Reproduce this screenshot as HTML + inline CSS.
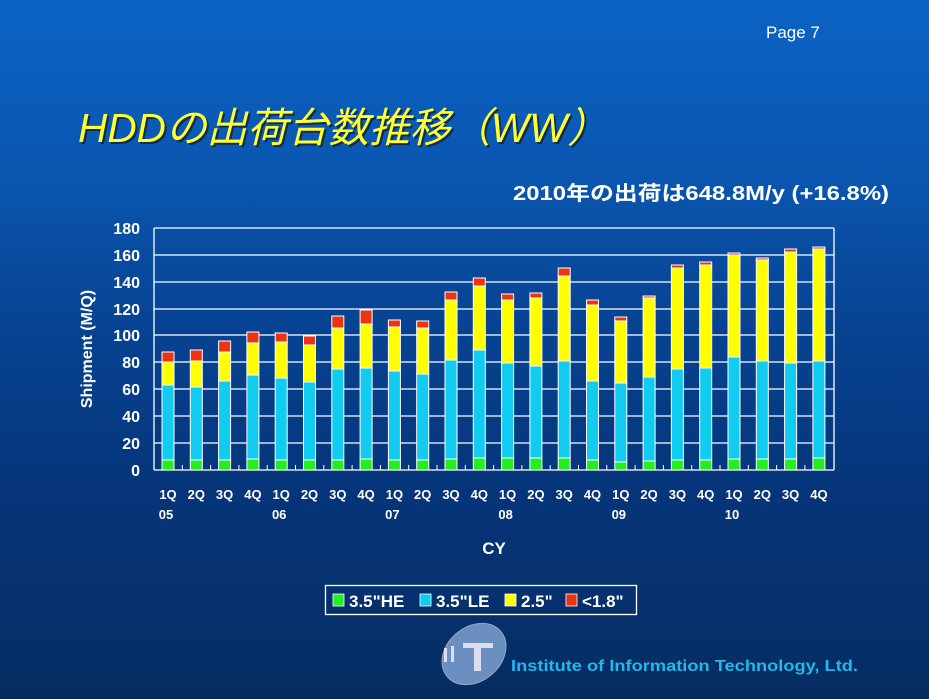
<!DOCTYPE html>
<html><head><meta charset="utf-8"><style>
body{margin:0;width:929px;height:699px;overflow:hidden;background:linear-gradient(180deg,#0b63c4 0%,#0a56b0 25%,#074494 45%,#06357a 70%,#062d62 100%);font-family:"Liberation Sans","Noto Sans CJK JP",sans-serif}
svg{position:absolute;left:0;top:0}
</style></head><body>
<svg width="929" height="699" xmlns="http://www.w3.org/2000/svg" font-family="Liberation Sans, Noto Sans CJK JP, sans-serif">
<text x="766" y="38" fill="#fff" font-size="17">Page 7</text>
<text x="80" y="144" fill="#111" font-size="41" font-style="italic" textLength="530" lengthAdjust="spacingAndGlyphs" opacity="0.6">HDDの出荷台数推移（WW）</text>
<text x="78" y="142" fill="#ffff33" font-size="41" font-style="italic" textLength="530" lengthAdjust="spacingAndGlyphs">HDDの出荷台数推移（WW）</text>
<text x="513" y="200" fill="#fff" font-size="20" font-weight="bold" textLength="376" lengthAdjust="spacingAndGlyphs">2010年の出荷は648.8M/y (+16.8%)</text>
<g stroke="#fff" stroke-width="1.3">
<line x1="154" y1="228" x2="834" y2="228"/><line x1="154" y1="255" x2="834" y2="255"/><line x1="154" y1="282" x2="834" y2="282"/><line x1="154" y1="309" x2="834" y2="309"/><line x1="154" y1="335" x2="834" y2="335"/><line x1="154" y1="362" x2="834" y2="362"/><line x1="154" y1="389" x2="834" y2="389"/><line x1="154" y1="416" x2="834" y2="416"/><line x1="154" y1="443" x2="834" y2="443"/><line x1="154" y1="470" x2="834" y2="470"/>
<line x1="154" y1="228" x2="154" y2="470"/><line x1="834" y1="228" x2="834" y2="470"/>
</g>
<g fill="#fff" font-size="16" font-weight="bold" text-anchor="end">
<text x="140" y="234">180</text><text x="140" y="261">160</text><text x="140" y="288">140</text><text x="140" y="315">120</text><text x="140" y="341">100</text><text x="140" y="368">80</text><text x="140" y="395">60</text><text x="140" y="422">40</text><text x="140" y="449">20</text><text x="140" y="476">0</text>
</g>
<text transform="translate(92,349) rotate(-90)" fill="#fff" font-size="16" font-weight="bold" text-anchor="middle">Shipment (M/Q)</text>
<g id="bars" stroke="#fff" stroke-width="1"></g>
<g id="xl" fill="#fff" font-size="13" font-weight="bold" text-anchor="middle"></g>
<text x="494" y="554" fill="#fff" font-size="17" font-weight="bold" text-anchor="middle">CY</text>
<rect x="325.5" y="585.5" width="311" height="29" fill="none" stroke="#fff" stroke-width="1.3"/>
<g font-size="17" font-weight="bold" fill="#fff" stroke="#fff" stroke-width="0.8">
<rect x="333" y="594" width="11" height="12" fill="#22ee22"/><text x="349" y="607" stroke="none">3.5"HE</text>
<rect x="420" y="594" width="11" height="12" fill="#11ccf0"/><text x="436" y="607" stroke="none">3.5"LE</text>
<rect x="505" y="594" width="11" height="12" fill="#ffff00"/><text x="521" y="607" stroke="none">2.5"</text>
<rect x="566" y="594" width="11" height="12" fill="#ee3311"/><text x="582" y="607" stroke="none">&lt;1.8"</text>
</g>
<ellipse cx="474" cy="654" rx="35" ry="27" transform="rotate(-40 474 654)" fill="#6a8fc0" stroke="#9ab" stroke-width="1"/>
<rect x="463" y="643" width="30" height="5" fill="#dde"/><rect x="474" y="643" width="7" height="28" fill="#dde"/>
<rect x="444" y="648" width="3" height="14" fill="#dde"/><rect x="451" y="646" width="3" height="16" fill="#dde"/>
<text x="511" y="671" fill="#22b8ea" font-size="16" font-weight="bold" textLength="347" lengthAdjust="spacingAndGlyphs">Institute of Information Technology, Ltd.</text>
</svg>
<script>
var d=[[352,362,385,460],[350,361,387,460],[341,352,381,460],[332,343,375,459],[333,342,378,460],[336,345,382,460],[316,328,369,460],[310,324,368,459],[320,327,371,460],[321,328,374,460],[292,300,360,459],[278,286,350,458],[294,300,363,458],[293,298,366,458],[268,276,361,458],[300,305,381,460],[317,321,383,462],[296,298,377,461],[265,268,369,460],[262,265,368,460],[253,255,357,459],[258,260,361,459],[249,252,363,459],[247,249,361,458]];
var ns="http://www.w3.org/2000/svg",g=document.getElementById('bars'),xl=document.getElementById('xl');
var cols=['#ee3311','#ffff00','#11ccf0','#22ee22'];
var labs=['1Q','2Q','3Q','4Q'],yrs=['05','06','07','08','09','10'];
d.forEach(function(b,i){var x=162+28.3*i;var ys=b.concat([470]);
for(var k=0;k<4;k++){var r=document.createElementNS(ns,'rect');r.setAttribute('x',x);r.setAttribute('y',ys[k]);r.setAttribute('width',12);r.setAttribute('height',ys[k+1]-ys[k]);r.setAttribute('fill',cols[k]);g.appendChild(r);}
var t=document.createElementNS(ns,'text');t.setAttribute('x',x+6);t.setAttribute('y',499);t.textContent=labs[i%4];xl.appendChild(t);
if(i%4==0){var u=document.createElementNS(ns,'text');u.setAttribute('x',x+4);u.setAttribute('y',519);u.textContent=yrs[i/4];xl.appendChild(u);}
if(i>0){var l=document.createElementNS(ns,'line');l.setAttribute('x1',x-8);l.setAttribute('x2',x-8);l.setAttribute('y1',465);l.setAttribute('y2',470);g.appendChild(l);}
});
</script>
</body></html>
